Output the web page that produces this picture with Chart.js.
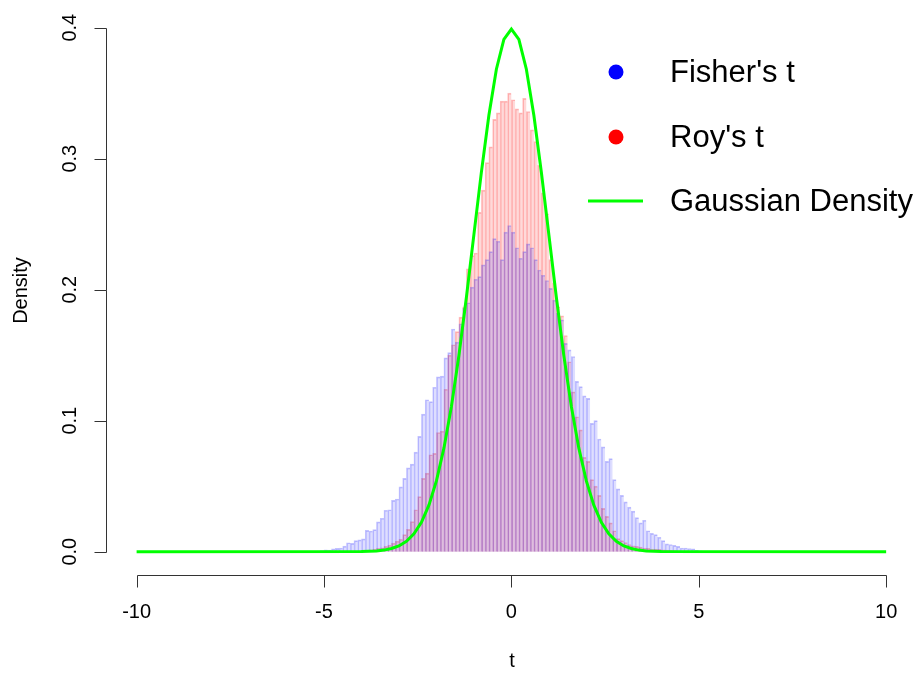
<!DOCTYPE html>
<html><head><meta charset="utf-8">
<script src="https://cdn.jsdelivr.net/npm/chart.js@4.4.1/dist/chart.umd.min.js"></script>
<style>html,body{margin:0;padding:0;background:#fff;}canvas{display:block;}</style>
</head><body>
<canvas id="c" width="915" height="676"></canvas>
<script>
// ---- data ----
const binStart = -5.5;      // left edge of first histogram bin
const binWidth = 0.1;
// Fisher's t histogram densities, bins from -5.5 to 5.5
const fisherT = [
  0, 0, 0, 0.0004, 0.0008, 0.0015, 0.0012, 0.0022, 0.0025, 0.0028,
  0.0042, 0.0068, 0.0063, 0.0085, 0.0090, 0.0098, 0.0163, 0.0158, 0.0168, 0.0228,
  0.0255, 0.0316, 0.0320, 0.0392, 0.0402, 0.0495, 0.0560, 0.0640, 0.0668, 0.0760,
  0.0880, 0.1050, 0.1160, 0.1145, 0.1255, 0.1335, 0.1340, 0.1480, 0.1520, 0.1700,
  0.1600, 0.1740, 0.1860, 0.1900, 0.2020, 0.2080, 0.2100, 0.2190, 0.2230, 0.2290,
  0.2390, 0.2370, 0.2230, 0.2440, 0.2490,
  0.2440, 0.2320, 0.2240, 0.2290, 0.2350, 0.2320, 0.2230, 0.2150, 0.2110, 0.2070,
  0.2010, 0.1920, 0.1820, 0.1770, 0.1590, 0.1540, 0.1490, 0.1300, 0.1260, 0.1190,
  0.1170, 0.0980, 0.1000, 0.0860, 0.0800, 0.0690, 0.0710, 0.0550, 0.0480, 0.0430,
  0.0380, 0.0340, 0.0310, 0.0260, 0.0220, 0.0240, 0.0160, 0.0140, 0.0130, 0.0110,
  0.0085, 0.0060, 0.0055, 0.0048, 0.0040, 0.0028, 0.0028, 0.0024, 0.0022, 0.0010,
  0.0006, 0.0003, 0, 0, 0
];
// Roy's t histogram densities, same bins
const roysT = [
  0, 0, 0, 0, 0, 0, 0, 0, 0, 0,
  0, 0, 0, 0, 0.0005, 0.0008, 0.0010, 0.0015, 0.0020, 0.0025,
  0.0030, 0.0040, 0.0050, 0.0065, 0.0080, 0.0095, 0.0130, 0.0170, 0.0230, 0.0320,
  0.0420, 0.0560, 0.0600, 0.0740, 0.0750, 0.0910, 0.0920, 0.1240, 0.1500, 0.1580,
  0.1680, 0.1790, 0.1870, 0.2160, 0.2260, 0.2280, 0.2590, 0.2760, 0.2970, 0.3090,
  0.3300, 0.3350, 0.3440, 0.3440, 0.3500,
  0.3450, 0.3380, 0.3350, 0.3460, 0.3360, 0.3220, 0.3130, 0.2950, 0.2740, 0.2580,
  0.2230, 0.2050, 0.1870, 0.1800, 0.1650, 0.1450, 0.1220, 0.1030, 0.0930, 0.0720,
  0.0690, 0.0550, 0.0500, 0.0430, 0.0330, 0.0270, 0.0220, 0.0160, 0.0100, 0.0085,
  0.0070, 0.0055, 0.0045, 0.0040, 0.0035, 0.0028, 0.0025, 0.0020, 0.0020, 0.0018,
  0.0015, 0.0012, 0.0010, 0.0008, 0.0006, 0.0005, 0.0004, 0.0003, 0.0002, 0,
  0, 0, 0, 0, 0
];
// Gaussian density curve points
const gaussX = [-10, -4.0, -3.8, -3.6, -3.4, -3.2, -3.0, -2.8, -2.6, -2.4, -2.2,
  -2.0, -1.8, -1.6, -1.4, -1.2, -1.0, -0.8, -0.6, -0.4, -0.2, 0,
  0.2, 0.4, 0.6, 0.8, 1.0, 1.2, 1.4, 1.6, 1.8, 2.0,
  2.2, 2.4, 2.6, 2.8, 3.0, 3.2, 3.4, 3.6, 3.8, 4.0, 10];
const gaussY = [0, 0.0001, 0.0003, 0.0006, 0.0012, 0.0024, 0.0044, 0.0079, 0.0136, 0.0224, 0.0355,
  0.0540, 0.0790, 0.1109, 0.1497, 0.1942, 0.2420, 0.2897, 0.3332, 0.3683, 0.3910, 0.3989,
  0.3910, 0.3683, 0.3332, 0.2897, 0.2420, 0.1942, 0.1497, 0.1109, 0.0790, 0.0540,
  0.0355, 0.0224, 0.0136, 0.0079, 0.0044, 0.0024, 0.0012, 0.0006, 0.0003, 0.0001, 0];
const xTicks = [-10, -5, 0, 5, 10];
const yTicks = [0, 0.1, 0.2, 0.3, 0.4];
const yTickLabels = ['0.0', '0.1', '0.2', '0.3', '0.4'];
const seriesNames = ["Fisher's t", "Roy's t", "Gaussian Density"];
const xTitle = 't';
const yTitle = 'Density';

// ---- build datasets ----
const toBins = vals => vals.map((v, i) => ({x: binStart + binWidth * (i + 0.5), y: v}));
const gaussPts = gaussX.map((xv, i) => ({x: xv, y: gaussY[i]}));

const FONT = '"Liberation Sans", Arial, sans-serif';

const rAxes = {
  id: 'rAxes',
  afterDraw(chart) {
    const {ctx, chartArea} = chart;
    const xs = chart.scales.x, ys = chart.scales.y;
    ctx.save();
    ctx.strokeStyle = '#333';
    ctx.lineWidth = 1;
    ctx.fillStyle = '#000';
    ctx.font = '20px ' + FONT;
    // x axis
    const ay = Math.round(chartArea.bottom) + 0.5;
    const xa = Math.round(xs.getPixelForValue(xTicks[0])) + 0.5;
    const xb = Math.round(xs.getPixelForValue(xTicks[xTicks.length - 1])) + 0.5;
    ctx.beginPath();
    ctx.moveTo(xa, ay); ctx.lineTo(xb, ay);
    xTicks.forEach(v => {
      const px = Math.round(xs.getPixelForValue(v)) + 0.5;
      ctx.moveTo(px, ay); ctx.lineTo(px, ay + 12);
    });
    ctx.stroke();
    ctx.textAlign = 'center';
    ctx.textBaseline = 'middle';
    xTicks.forEach(v => ctx.fillText(String(v), xs.getPixelForValue(v), ay + 37));
    ctx.fillText(xTitle, (xa + xb) / 2, ay + 86);
    // y axis
    const ax = Math.round(chartArea.left) - 0.5;
    const ya = Math.round(ys.getPixelForValue(yTicks[0])) + 0.5;
    const yb = Math.round(ys.getPixelForValue(yTicks[yTicks.length - 1])) + 0.5;
    ctx.beginPath();
    ctx.moveTo(ax, ya); ctx.lineTo(ax, yb);
    yTicks.forEach(v => {
      const py = Math.round(ys.getPixelForValue(v)) + 0.5;
      ctx.moveTo(ax, py); ctx.lineTo(ax - 12, py);
    });
    ctx.stroke();
    yTicks.forEach((v, i) => {
      ctx.save();
      ctx.translate(ax - 36, ys.getPixelForValue(v));
      ctx.rotate(-Math.PI / 2);
      ctx.fillText(yTickLabels[i], 0, 0);
      ctx.restore();
    });
    ctx.save();
    ctx.translate(ax - 85, (ya + yb) / 2);
    ctx.rotate(-Math.PI / 2);
    ctx.fillText(yTitle, 0, 0);
    ctx.restore();

    // legend (no box)
    const legColors = ['#0000FF', '#FF0000', '#00FF00'];
    const legY = [72, 137, 201];
    ctx.font = '31px ' + FONT;
    ctx.textAlign = 'left';
    for (let i = 0; i < 3; i++) {
      if (i < 2) {
        ctx.fillStyle = legColors[i];
        ctx.beginPath();
        ctx.arc(616, legY[i], 7.5, 0, Math.PI * 2);
        ctx.fill();
      } else {
        ctx.strokeStyle = legColors[i];
        ctx.lineWidth = 3;
        ctx.beginPath();
        ctx.moveTo(588, legY[i]); ctx.lineTo(643, legY[i]);
        ctx.stroke();
      }
      ctx.fillStyle = '#000';
      ctx.fillText(seriesNames[i], 670, legY[i] + 1);
    }
    ctx.restore();
  }
};

new Chart(document.getElementById('c'), {
  type: 'bar',
  data: {
    datasets: [
      {
        type: 'line', label: seriesNames[2], data: gaussPts,
        borderColor: '#00FF00', borderWidth: 3, pointRadius: 0, tension: 0,
        fill: false, order: 0
      },
      {
        label: seriesNames[0], data: toBins(fisherT), grouped: false,
        backgroundColor: 'rgba(0,0,255,0.13)', borderColor: 'rgba(0,0,255,0.24)',
        borderWidth: {left: 1, top: 1, right: 0, bottom: 0}, borderSkipped: false,
        barPercentage: 1, categoryPercentage: 1, order: 1
      },
      {
        label: seriesNames[1], data: toBins(roysT), grouped: false,
        backgroundColor: 'rgba(255,0,0,0.15)', borderColor: 'rgba(255,0,0,0.26)',
        borderWidth: {left: 1, top: 1, right: 0, bottom: 0}, borderSkipped: false,
        barPercentage: 1, categoryPercentage: 1, order: 2
      }
    ]
  },
  options: {
    responsive: false,
    animation: false,
    devicePixelRatio: 1,
    layout: {padding: {left: 107, right: 0, top: 7, bottom: 101}},
    plugins: {legend: {display: false}, tooltip: {enabled: false}},
    scales: {
      x: {type: 'linear', min: -10.79, max: 10.77, offset: false, display: false},
      y: {type: 'linear', min: -0.0178, max: 0.4158, display: false}
    }
  },
  plugins: [rAxes]
});
</script>
</body></html>
